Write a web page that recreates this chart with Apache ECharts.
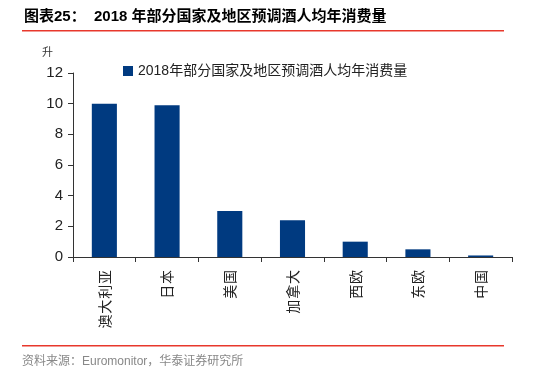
<!DOCTYPE html>
<html><head><meta charset="utf-8">
<script src="https://cdn.jsdelivr.net/npm/echarts@6/dist/echarts.min.js"></script>
<style>html,body{margin:0;padding:0;background:#fff}#c{width:554px;height:382px}</style>
</head><body><div id="c"></div>
<script>
const categories = ['澳大利亚','日本','美国','加拿大','西欧','东欧','中国'];
const values = [10, 9.9, 3.0, 2.4, 1.0, 0.5, 0.1];
const seriesName = '2018年部分国家及地区预调酒人均年消费量';
const yTicks = [0, 2, 4, 6, 8, 10, 12];

const chart = echarts.init(document.getElementById('c'));
const cjk = '"Noto Sans CJK SC", sans-serif';
chart.setOption({
  animation: false,
  textStyle: {fontFamily: cjk},
  graphic: [
    {type: 'text', left: 24, top: 9, style: {text: '图表25：  2018 年部分国家及地区预调酒人均年消费量', font: 'bold 15px "Liberation Sans", "Noto Sans CJK SC"', fill: '#000'}},
    {type: 'rect', shape: {x: 22, y: 30, width: 482, height: 1.5}, style: {fill: '#e8382c'}},
    {type: 'text', left: 42, top: 46, style: {text: '升', font: '11px "Noto Sans CJK SC"', fill: '#333'}},
    {type: 'rect', shape: {x: 22, y: 345, width: 482, height: 1.5}, style: {fill: '#e8382c'}},
    {type: 'text', left: 22, top: 356, style: {text: '资料来源：Euromonitor，华泰证券研究所', font: '12px "Liberation Sans", "Noto Sans CJK SC"', fill: '#888'}}
  ],
  legend: {
    left: 118, top: 59, itemWidth: 10, itemHeight: 10, icon: 'rect', itemGap: 4,
    textStyle: {fontSize: 14, color: '#222', fontFamily: '"Liberation Sans", "Noto Sans CJK SC"'},
    data: [seriesName]
  },
  grid: {left: 73, right: 42, top: 73, bottom: 125, containLabel: false},
  xAxis: {
    type: 'category', data: categories,
    axisLine: {lineStyle: {color: '#333', width: 1}},
    axisTick: {show: true, length: 5, alignWithLabel: false, lineStyle: {color: '#333'}},
    axisLabel: {interval: 0, fontSize: 14, color: '#222', rotate: 90, margin: 13,
      formatter: v => v.split('').join('\u200A')}
  },
  yAxis: {
    type: 'value', min: 0, max: 12, interval: 2,
    axisLine: {show: true, lineStyle: {color: '#333'}},
    axisTick: {show: true, length: 5, lineStyle: {color: '#333'}},
    splitLine: {show: false},
    axisLabel: {fontSize: 15, color: '#222', margin: 10, fontFamily: '"Liberation Sans", sans-serif'}
  },
  series: [{
    name: seriesName, type: 'bar', data: values, barWidth: '40%',
    itemStyle: {color: '#003a80'}
  }]
});
</script></body></html>
